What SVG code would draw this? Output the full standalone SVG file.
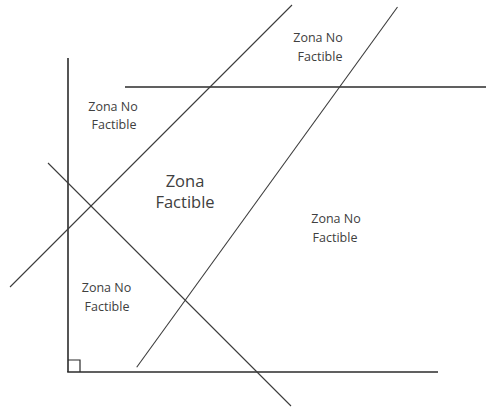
<svg xmlns="http://www.w3.org/2000/svg" width="486" height="407" viewBox="0 0 486 407">
<style>
.bg{fill:#ffffff}
.ax{stroke:#2b2b2b;stroke-width:1.6;fill:none}
.ln{stroke:#3a3a3a;stroke-width:1.1;fill:none}
.t{font-family:"Open Sans","Liberation Sans",sans-serif;font-size:12.5px;fill:#404040;text-anchor:middle}
.tb{font-family:"Open Sans","Liberation Sans",sans-serif;font-size:16.5px;fill:#404040;text-anchor:middle}
</style>
<rect class="bg" x="0" y="0" width="486" height="407"/>
<g id="connectors">
<line class="ax" x1="68" y1="58" x2="68" y2="372"/>
<line class="ax" x1="67.2" y1="372" x2="438" y2="372"/>
<line class="ax" x1="125" y1="87" x2="486" y2="87"/>
<polyline class="ax" points="68,360 80,360 80,372" style="stroke-width:1.2"/>
<line class="ln" x1="10" y1="287" x2="292" y2="5"/>
<line class="ln" x1="397.5" y1="7" x2="136.7" y2="367.3"/>
<line class="ln" x1="48" y1="163" x2="291" y2="406"/>
</g>
<g id="zona-no-factible-1"><text class="t" x="113" y="110.5">Zona No</text><text class="t" x="114" y="129">Factible</text></g>
<g id="zona-factible"><text class="tb" x="185" y="186.5">Zona</text><text class="tb" x="185" y="208.3">Factible</text></g>
<g id="zona-no-factible-2"><text class="t" x="318" y="41.7">Zona No</text><text class="t" x="320" y="60.7">Factible</text></g>
<g id="zona-no-factible-3"><text class="t" x="336" y="223.3">Zona No</text><text class="t" x="335" y="242.3">Factible</text></g>
<g id="zona-no-factible-4"><text class="t" x="106.5" y="291.7">Zona No</text><text class="t" x="107" y="310.7">Factible</text></g>
</svg>
